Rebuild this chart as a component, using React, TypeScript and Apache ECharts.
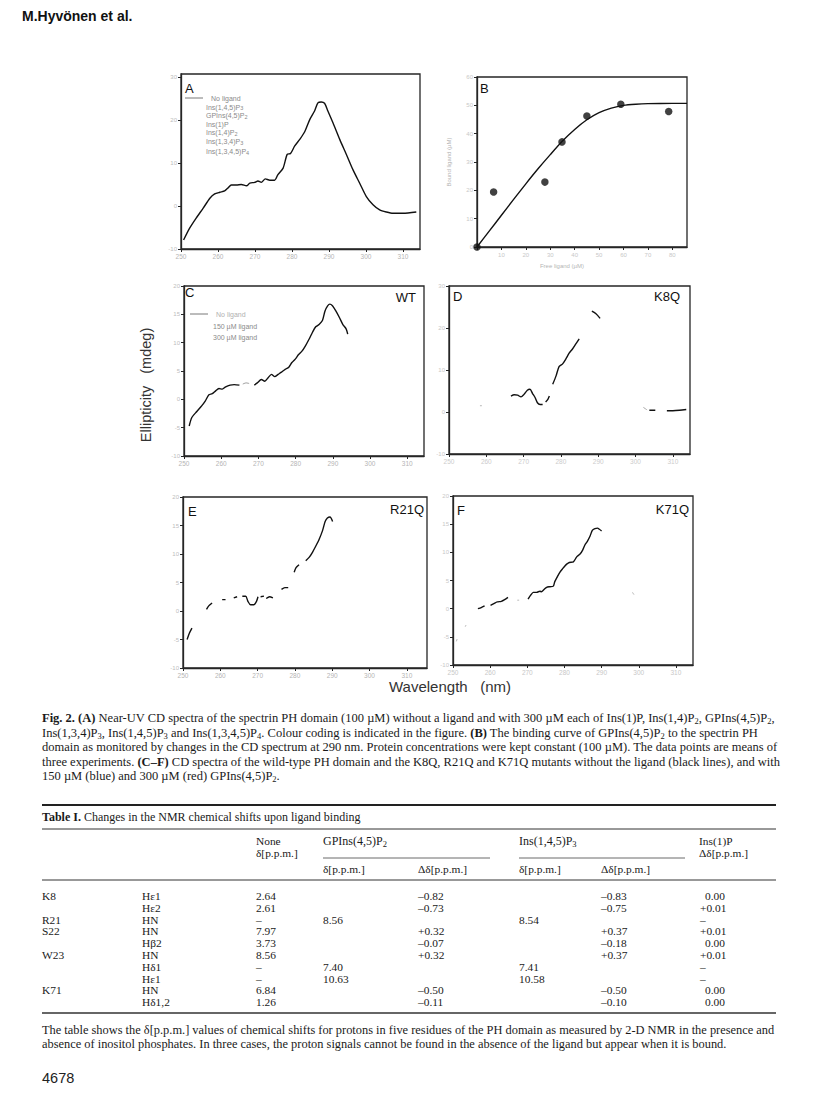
import React, { useEffect, useRef } from "react";
import * as echarts from "echarts";

type P = [number, number];

const SERIF = "'Liberation Serif', 'Times New Roman', serif";
const SANS = "'Liberation Sans', Arial, Helvetica, sans-serif";

// ---------- Panel data ----------
const aSpectrum: P[] = [
  [250.7, -7.9], [252.3, -5.2], [254.1, -2.8], [256.0, -0.5], [257.8, 1.8], [259.1, 2.8],
  [260.5, 3.2], [261.8, 3.5], [262.7, 4.2], [263.6, 4.9], [265.0, 4.9], [266.3, 5.0],
  [267.7, 4.7], [268.6, 5.3], [269.9, 5.5], [270.8, 5.8], [271.7, 5.5], [272.8, 6.3],
  [274.0, 6.0], [275.3, 6.0], [276.2, 7.3], [277.6, 8.8], [278.7, 12.0], [279.6, 12.2],
  [280.7, 13.9], [282.1, 15.5], [283.4, 17.2], [284.8, 20.1], [286.1, 22.1], [287.0, 24.0],
  [287.9, 24.2], [288.8, 23.9], [289.7, 22.1], [291.1, 19.3], [292.9, 15.5], [294.7, 12.0],
  [296.5, 8.4], [298.3, 5.3], [300.1, 2.2], [301.9, 0.3], [303.7, -0.9], [305.5, -1.4],
  [307.3, -1.7], [310.0, -1.7], [313.6, -1.4],
];

const bPoints: P[] = [
  [0, 0], [6.8, 19.4], [27.8, 22.9], [34.8, 37.1], [45, 46.2], [58.9, 50.4], [78.5, 47.8],
];
const bFit: P[] = [
  [0, 0], [5, 5.6], [10, 11.2], [15, 16.8], [20, 22.3], [25, 27.6], [30, 32.6], [35, 37.4],
  [40, 41.5], [45, 44.9], [50, 47.4], [55, 49.0], [60, 50.0], [65, 50.4], [70, 50.6],
  [80, 50.7], [86, 50.7],
];

const cSegments: P[][] = [
  [[251.4, -4.7], [252.1, -3.2], [253.5, -2.1], [254.8, -1.1], [255.7, -0.3], [256.7, 0.8],
   [257.6, 1.0], [258.5, 1.5], [259.4, 1.9], [260.3, 1.8], [261.2, 2.2], [262.4, 2.5],
   [263.5, 2.6], [264.9, 2.5]],
  [[268.9, 2.5], [269.7, 2.9], [270.8, 3.5], [271.7, 3.2], [272.6, 3.8], [273.5, 4.4],
   [274.4, 4.0], [275.3, 4.4], [276.2, 4.8], [277.2, 5.3], [278.1, 5.6], [279.0, 6.5],
   [279.9, 7.1], [280.8, 7.9], [281.7, 8.5], [282.6, 9.4], [283.6, 10.6], [284.5, 11.8],
   [285.4, 12.8], [286.3, 13.2], [287.2, 13.9], [287.9, 15.6], [288.6, 16.5], [289.2, 16.8],
   [289.9, 16.5], [290.8, 15.6], [291.8, 14.4], [292.7, 13.2], [293.6, 12.4], [294.0, 11.5]],
];
const cFaint: P[][] = [
  [[265.8, 2.7], [266.7, 2.9], [267.5, 2.8]],
];

const dSegments: P[][] = [
  [[266.6, 3.8], [267.5, 4.1], [268.4, 4.0], [269.3, 3.6], [270.1, 4.2], [271.0, 5.2],
   [271.7, 5.4], [272.4, 4.4], [273.1, 3.4], [273.7, 2.2], [274.4, 1.8], [275.1, 1.8]],
  [[275.9, 2.4], [276.5, 3.0], [276.9, 3.8]],
  [[277.8, 6.6], [278.7, 8.6], [279.5, 10.8], [280.4, 11.4], [281.3, 12.6], [282.2, 14.0],
   [283.1, 15.0], [284.0, 16.2], [284.9, 17.4]],
  [[288.3, 24.0], [289.4, 23.4], [290.5, 22.3]],
  [[303.7, 0.4], [305.3, 0.4]],
  [[308.4, 0.3], [310.0, 0.3], [311.8, 0.4], [313.6, 0.6]],
];
const dFaint: P[][] = [
  [[258.3, 1.5], [258.8, 1.5]],
  [[302.1, 1.1], [303.1, 0.5]],
];

const eSegments: P[][] = [
  [[251.1, -5.0], [251.7, -3.9], [252.4, -3.0]],
  [[256.3, 0.3], [256.9, 0.9], [257.8, 1.4]],
  [[260.5, 2.0], [261.4, 2.0]],
  [[263.6, 2.3], [264.5, 2.5]],
  [[265.9, 2.6], [266.8, 2.6], [267.4, 1.7], [268.1, 1.1], [269.0, 1.1], [269.7, 1.7], [270.1, 2.5]],
  [[270.8, 2.5], [271.7, 2.6]],
  [[272.3, 2.2], [273.2, 2.5], [274.1, 2.3]],
  [[276.4, 3.8], [277.3, 4.1], [278.2, 4.1]],
  [[279.8, 6.8], [280.3, 7.6], [281.1, 8.1]],
  [[282.9, 8.8], [283.8, 9.4], [284.7, 10.3], [285.6, 11.4], [286.5, 12.6], [287.4, 14.1],
   [288.1, 15.7], [288.7, 16.3], [289.4, 16.5], [290.1, 15.7]],
];

const fSegments: P[][] = [
  [[256.7, 0.0], [257.6, 0.2], [258.5, 0.5]],
  [[260.1, 0.6], [261.0, 0.9], [261.9, 1.2], [263.0, 1.3], [263.9, 1.6], [264.8, 2.0]],
  [[270.2, 1.7], [270.9, 2.4], [271.6, 2.9], [272.5, 2.9], [273.4, 3.1], [273.8, 3.0],
   [274.5, 3.4], [275.2, 3.8], [276.1, 3.9], [277.0, 4.0], [277.4, 4.8], [278.1, 5.7],
   [278.8, 6.5], [279.4, 7.0], [280.0, 7.5], [280.6, 7.9], [281.3, 8.2], [282.4, 8.3],
   [283.3, 9.2], [284.2, 9.7], [284.9, 10.4], [285.5, 11.3], [286.2, 12.0], [286.9, 12.9],
   [287.5, 13.9], [288.2, 14.2], [288.9, 14.3], [289.4, 14.1], [290.0, 13.8]],
];
const fFaint: P[][] = [
  [[250.9, -5.8], [251.1, -5.4]],
  [[253.3, -3.2], [253.5, -2.9]],
  [[267.3, 1.5], [267.8, 1.5]],
  [[298.3, 2.9], [298.7, 2.5]],
];

// ---------- Text data ----------
const legendA = [
  "No ligand", "Ins(1,4,5)P{s|3}", "GPIns(4,5)P{s|2}", "Ins(1)P",
  "Ins(1,4)P{s|2}", "Ins(1,3,4)P{s|3}", "Ins(1,3,4,5)P{s|4}",
];
const legendC = ["No ligand", "150 \u00b5M ligand", "300 \u00b5M ligand"];

const captionLines = [
  "{b|Fig. 2.} {b|(A)} Near-UV CD spectra of the spectrin PH domain (100 \u00b5M) without a ligand and with 300 \u00b5M each of Ins(1)P, Ins(1,4)P{s|2}, GPIns(4,5)P{s|2},",
  "Ins(1,3,4)P{s|3}, Ins(1,4,5)P{s|3} and Ins(1,3,4,5)P{s|4}. Colour coding is indicated in the figure. {b|(B)} The binding curve of GPIns(4,5)P{s|2} to the spectrin PH",
  "domain as monitored by changes in the CD spectrum at 290 nm. Protein concentrations were kept constant (100 \u00b5M). The data points are means of",
  "three experiments. {b|(C\u2013F)} CD spectra of the wild-type PH domain and the K8Q, R21Q and K71Q mutants without the ligand (black lines), and with",
  "150 \u00b5M (blue) and 300 \u00b5M (red) GPIns(4,5)P{s|2}.",
];

const tableRows: string[][] = [
  ["K8", "H\u03b51", "2.64", "", "\u20130.82", "", "\u20130.83", "0.00"],
  ["", "H\u03b52", "2.61", "", "\u20130.73", "", "\u20130.75", "+0.01"],
  ["R21", "HN", "\u2013", "8.56", "", "8.54", "", "\u2013"],
  ["S22", "HN", "7.97", "", "+0.32", "", "+0.37", "+0.01"],
  ["", "H\u03b22", "3.73", "", "\u20130.07", "", "\u20130.18", "0.00"],
  ["W23", "HN", "8.56", "", "+0.32", "", "+0.37", "+0.01"],
  ["", "H\u03b41", "\u2013", "7.40", "", "7.41", "", "\u2013"],
  ["", "H\u03b51", "\u2013", "10.63", "", "10.58", "", "\u2013"],
  ["K71", "HN", "6.84", "", "\u20130.50", "", "\u20130.50", "0.00"],
  ["", "H\u03b41,2", "1.26", "", "\u20130.11", "", "\u20130.10", "0.00"],
];

const footnoteLines = [
  "The table shows the \u03b4[p.p.m.] values of chemical shifts for protons in five residues of the PH domain as measured by 2-D NMR in the presence and",
  "absence of inositol phosphates. In three cases, the proton signals cannot be found in the absence of the ligand but appear when it is bound.",
];

// ---------- helpers ----------
const RICH = {
  b: { fontWeight: "bold", fontFamily: SERIF, fontSize: 12.5, fill: "#1a1a1a" },
  s: { fontSize: 8.5, fontFamily: SERIF, padding: [6, 0, 0, 0], fill: "#1a1a1a" },
};
const RICH_T = {
  b: { fontWeight: "bold", fontFamily: SERIF, fontSize: 12, fill: "#1a1a1a" },
  s: { fontSize: 8.5, fontFamily: SERIF, padding: [6, 0, 0, 0], fill: "#1a1a1a" },
};
const RICH_L = {
  s: { fontSize: 5.5, fontFamily: SANS, padding: [2, 0, 0, 0], lineHeight: 6, fill: "#8a8a8a" },
};

function txt(x: number, y: number, text: string, o: any = {}) {
  const align = o.align || "left";
  const style: any = {
    text,
    fontSize: o.size || 12,
    fontFamily: o.family || SERIF,
    fontWeight: o.weight || "normal",
    fill: o.color || "#1a1a1a",
    align,
    textAlign: align,
    verticalAlign: "middle",
    textVerticalAlign: "middle",
  };
  if (o.rich) style.rich = o.rich;
  if (o.lineHeight) style.lineHeight = o.lineHeight;
  return { type: "text", x, y, rotation: o.rotation || 0, silent: true, style };
}
function hline(x1: number, x2: number, y: number, w = 1, c = "#222") {
  return { type: "line", silent: true, shape: { x1, y1: y, x2, y2: y }, style: { stroke: c, lineWidth: w } };
}

const AX = "#262626";
function wlAxis(gridIndex: number, max: number, labelColor = "#b5b5b5") {
  return {
    type: "value",
    gridIndex,
    min: 250,
    max,
    interval: 10,
    axisLine: { show: true, onZero: false, lineStyle: { color: AX, width: 1.3 } },
    axisTick: { show: true, length: 3, lineStyle: { color: AX, width: 1 } },
    axisLabel: {
      color: labelColor,
      fontSize: 6.5,
      fontFamily: SANS,
      margin: 4,
      showMaxLabel: false,
      formatter: (v: number) => (v % 10 === 0 && v <= 310 ? String(v) : ""),
    },
    splitLine: { show: false },
  };
}
function yAx(gridIndex: number, min: number, max: number, interval: number, labelColor = "#bdbdbd") {
  return {
    type: "value",
    gridIndex,
    min,
    max,
    interval,
    axisLine: { show: true, onZero: false, lineStyle: { color: AX, width: 1.3 } },
    axisTick: { show: true, length: 3, lineStyle: { color: AX, width: 1 } },
    axisLabel: {
      color: labelColor,
      fontSize: 6,
      fontFamily: SANS,
      margin: 4,
      showMaxLabel: max % interval === 0,
      formatter: (v: number) => (Math.abs(v % interval) < 1e-6 ? String(v) : ""),
    },
    splitLine: { show: false },
  };
}
function grid(left: number, top: number, width: number, height: number) {
  return { left, top, width, height, show: true, borderColor: AX, borderWidth: 1.3, outerBoundsMode: "none", containLabel: false };
}
function lineSeries(idx: number, data: P[], color = "#111", width = 1.4) {
  return {
    type: "line",
    xAxisIndex: idx,
    yAxisIndex: idx,
    data,
    symbol: "none",
    showSymbol: false,
    smooth: 0.25,
    silent: true,
    lineStyle: { color, width },
    z: 3,
  };
}

function buildOption() {
  const series: any[] = [];
  series.push(lineSeries(0, aSpectrum));
  series.push(lineSeries(1, bFit, "#111", 1.4));
  series.push({
    type: "scatter",
    xAxisIndex: 1,
    yAxisIndex: 1,
    data: bPoints,
    symbol: "circle",
    symbolSize: 7.5,
    silent: true,
    itemStyle: { color: "#111" },
    z: 4,
  });
  cSegments.forEach((s) => series.push(lineSeries(2, s)));
  cFaint.forEach((s) => series.push(lineSeries(2, s, "#9a9a9a", 1)));
  dSegments.forEach((s) => series.push(lineSeries(3, s)));
  dFaint.forEach((s) => series.push(lineSeries(3, s, "#aaaaaa", 1)));
  eSegments.forEach((s) => series.push(lineSeries(4, s)));
  fSegments.forEach((s) => series.push(lineSeries(5, s)));
  fFaint.forEach((s) => series.push(lineSeries(5, s, "#b0b0b0", 1)));

  const g: any[] = [];
  // page header / footer
  g.push(txt(22, 16, "M.Hyv\u00f6nen et al.", { family: SANS, weight: "bold", size: 14, color: "#111" }));
  g.push(txt(42, 1078, "4678", { family: SANS, size: 14.5, color: "#222" }));

  // panel letters & names
  const LBL = { family: SANS, size: 13, color: "#111" };
  g.push(txt(185, 88, "A", LBL));
  g.push(txt(480, 88, "B", LBL));
  g.push(txt(185, 292, "C", LBL));
  g.push(txt(416, 297, "WT", { ...LBL, align: "right" }));
  g.push(txt(453, 296, "D", LBL));
  g.push(txt(680, 296, "K8Q", { ...LBL, align: "right" }));
  g.push(txt(188, 511, "E", LBL));
  g.push(txt(424, 509, "R21Q", { ...LBL, align: "right" }));
  g.push(txt(457, 510, "F", LBL));
  g.push(txt(689, 509, "K71Q", { ...LBL, align: "right" }));

  // legend A
  const legAY = [98, 107, 115.5, 124, 132.5, 141.5, 151.5];
  g.push(hline(185, 203, legAY[0], 0.8, "#555"));
  legendA.forEach((t, i) =>
    g.push(txt(i === 0 ? 211 : 206, legAY[i], t, { family: SANS, size: 7, lineHeight: 7.5, color: "#8a8a8a", rich: RICH_L }))
  );
  // legend C
  const legCY = [314, 326, 337];
  g.push(hline(190, 208, legCY[0], 0.8, "#555"));
  legendC.forEach((t, i) =>
    g.push(txt(i === 0 ? 216 : 213, legCY[i], t, { family: SANS, size: 7, lineHeight: 8, color: i === 0 ? "#b0b0b0" : "#8a8a8a" }))
  );

  // axis titles
  g.push(txt(146, 385, "Ellipticity   (mdeg)", { family: SANS, size: 14.5, color: "#333", align: "center", rotation: Math.PI / 2 }));
  g.push(txt(450, 686, "Wavelength   (nm)", { family: SANS, size: 15, color: "#333", align: "center" }));
  g.push(txt(449, 162, "Bound ligand (\u00b5M)", { family: SANS, size: 6, color: "#b5b5b5", align: "center", rotation: Math.PI / 2 }));
  g.push(txt(562, 266, "Free ligand (\u00b5M)", { family: SANS, size: 6, color: "#b5b5b5", align: "center" }));

  // caption
  const capY = [718, 732.5, 747, 761.5, 776];
  captionLines.forEach((t, i) => g.push(txt(42, capY[i], t, { size: 12.5, rich: RICH })));

  // table
  g.push(hline(42, 776, 805, 2, "#222"));
  g.push(txt(42, 817, "{b|Table I.} Changes in the NMR chemical shifts upon ligand binding", { size: 12, rich: RICH_T }));
  g.push(hline(42, 776, 829, 1, "#333"));
  const TS = { size: 12, rich: RICH_T };
  const TC = { size: 11.4, lineHeight: 10.5 };
  g.push(txt(256, 841, "None", TC));
  g.push(txt(256, 853, "\u03b4[p.p.m.]", TC));
  g.push(txt(323, 841, "GPIns(4,5)P{s|2}", TS));
  g.push(txt(519, 841, "Ins(1,4,5)P{s|3}", TS));
  g.push(txt(699, 841, "Ins(1)P", TC));
  g.push(txt(699, 853, "\u0394\u03b4[p.p.m.]", TC));
  g.push(hline(323, 490, 858, 0.8, "#444"));
  g.push(hline(519, 685, 858, 0.8, "#444"));
  g.push(txt(323, 869, "\u03b4[p.p.m.]", TC));
  g.push(txt(418, 869, "\u0394\u03b4[p.p.m.]", TC));
  g.push(txt(519, 869, "\u03b4[p.p.m.]", TC));
  g.push(txt(601, 869, "\u0394\u03b4[p.p.m.]", TC));
  g.push(hline(42, 776, 880, 1, "#333"));
  const colX = [42, 142, 256, 323, 418, 519, 601, 700];
  const rowY = [896, 907.8, 919.6, 931.4, 943.2, 955, 966.8, 978.6, 990.4, 1002.2];
  tableRows.forEach((r, ri) => {
    r.forEach((cell, ci) => {
      if (!cell) return;
      let x = colX[ci];
      if (ci === 7 && /^\d/.test(cell)) x += 5;
      g.push(txt(x, rowY[ri], cell, TC));
    });
  });
  g.push(hline(42, 776, 1013, 1.3, "#333"));
  const fnY = [1030, 1044];
  footnoteLines.forEach((t, i) => g.push(txt(42, fnY[i], t, { size: 12.4 })));

  return {
    animation: false,
    backgroundColor: "#ffffff",
    grid: [
      grid(181, 74, 239, 175),
      grid(477, 77, 210, 170),
      grid(184, 286, 240, 170),
      grid(449, 286, 241, 168),
      grid(183, 497, 244, 171),
      grid(453, 496, 240, 169),
    ],
    xAxis: [
      wlAxis(0, 314.6),
      {
        type: "value",
        gridIndex: 1,
        min: 0,
        max: 86,
        interval: 10,
        axisLine: { show: true, onZero: false, lineStyle: { color: AX, width: 1.3 } },
        axisTick: { show: true, length: 3, lineStyle: { color: AX, width: 1 } },
        axisLabel: {
          color: "#c8c8c8",
          fontSize: 6,
          fontFamily: SANS,
          margin: 5,
          showMaxLabel: false,
          formatter: (v: number) => (v % 10 === 0 && v > 0 ? String(v) : ""),
        },
        splitLine: { show: false },
      },
      wlAxis(2, 314.5),
      wlAxis(3, 314.6, "#cccccc"),
      wlAxis(4, 315.4),
      wlAxis(5, 314.6, "#c8c8c8"),
    ],
    yAxis: [
      yAx(0, -10, 30.7, 10),
      yAx(1, 0, 60, 10, "#c8c8c8"),
      yAx(2, -10, 20, 5),
      yAx(3, -10, 30, 10, "#c8c8c8"),
      yAx(4, -10, 20, 5),
      yAx(5, -10, 20, 5, "#c8c8c8"),
    ],
    series,
    graphic: { elements: g },
  };
}

export default function App() {
  const ref = useRef<HTMLDivElement>(null);
  useEffect(() => {
    document.body.style.margin = "0";
    const chart = echarts.init(ref.current as HTMLDivElement, null, { renderer: "svg", width: 816, height: 1104 });
    chart.setOption(buildOption() as any);
    return () => chart.dispose();
  }, []);
  return <div ref={ref} style={{ width: 816, height: 1104, background: "#fff" }} />;
}
